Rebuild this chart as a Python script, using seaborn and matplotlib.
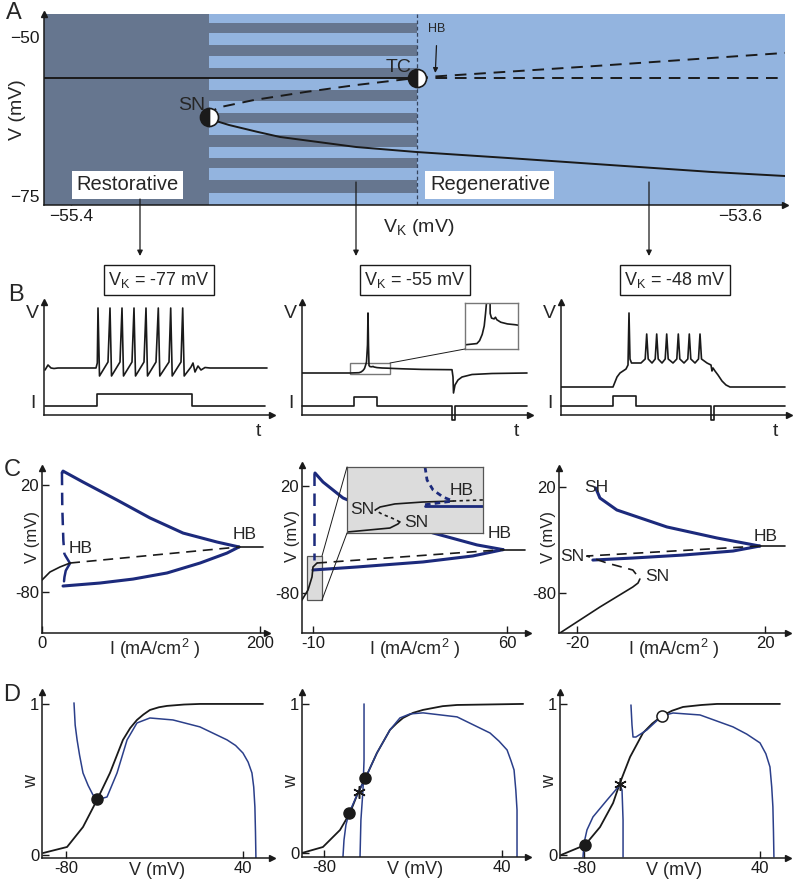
import numpy as np
import matplotlib
matplotlib.use("Agg")
import matplotlib.pyplot as plt
from matplotlib.patches import Rectangle, ConnectionPatch
import seaborn as sns

# =========================
# STYLE
# =========================
sns.set_theme(style="white")
plt.rcParams['font.family'] = ['Liberation Sans', 'DejaVu Sans']
plt.rcParams['axes.unicode_minus'] = False

W, H = 797, 885
DARK = "#66768f"
LIGHT = "#93b4df"
NAVY = "#1c2a7c"
BLUE = "#2b3f8a"

# =========================
# DATA  - panel A (bifurcation in V_K)
# =========================
vk_sn = -55.03
vk_tc = -54.47
v_sn = -62.58
v_tc = -56.45
stripe_top = [-47.80, -51.26, -54.87, -58.33, -61.95, -65.41, -69.03, -72.48]
stripe_bot = [-49.37, -52.99, -56.45, -60.06, -63.52, -67.30, -70.60, -74.53]
rest_vk = [-55.473, -54.472]
rest_v = [-56.45, -56.45]
rest_dash_vk = [-54.472, -53.479]
rest_dash_v = [-56.45, -56.45]
sn_tc_vk = [-55.031, -55.025, -55.005, -54.908, -54.770, -54.633, -54.472]
sn_tc_v = [-62.58, -61.9, -61.1, -59.91, -58.65, -57.55, -56.45]
low_vk = [-55.031, -55.005, -54.975, -54.90, -54.838, -54.633, -54.472, -54.224,
          -53.950, -53.675, -53.479]
low_v = [-62.58, -63.3, -63.84, -64.9, -65.72, -67.30, -68.08, -69.03,
         -70.13, -71.23, -71.86]
cyc_vk = [-54.472, -54.0, -53.479]
cyc_v = [-56.40, -54.6, -52.5]

# =========================
# DATA  - panel B (voltage traces, arbitrary units)
# =========================
vk_labels = ["-77", "-55", "-48"]

bl_t = [1, 4, 7, 10, 14, 52, 53.3, 54, 55.5, 64, 66, 67.5, 76, 78, 79.5, 88, 90, 91.5,
        100, 102, 103.5, 112, 114.3, 115.8, 125, 126.7, 128.2, 137, 138.7, 140.2,
        147, 149, 151, 154, 157, 161, 166, 223]
bl_v = [45, 50, 47, 46.5, 47, 47, 52, 107, 39, 53, 107, 39, 53, 107, 39, 53, 107, 39,
        53, 107, 39, 53, 107, 39, 53, 107, 39, 53, 107, 39,
        48, 52, 43, 49, 45, 47.5, 47, 47]
bl_it = [1, 53, 53, 148, 148, 221]
bl_i = [9, 9, 21, 21, 9, 9]

bm_t = [0, 48, 57, 59, 61, 62.5, 63.5, 64.5, 65.5, 66, 66.5, 67, 68, 70, 71, 72, 75, 80,
        86, 90, 100, 120, 150, 151, 151.5, 153, 156, 160, 170, 190, 225]
bm_v = [42, 42, 42.3, 43, 44.5, 46.5, 49.5, 53, 70, 102, 70, 49.5, 48.4, 48.2, 48.6,
        48.0, 47.4, 47.0, 46.8, 46.6, 46.2, 45.6, 45.3, 38, 22, 30, 35, 38, 40.5, 41.5, 42]
bm_it = [0, 52, 52, 75, 75, 150, 150, 152.5, 152.5, 225]
bm_i = [9, 9, 18, 18, 9, 9, -5, -5, 9, 9]

br_t = [0, 52, 54, 56, 59, 62, 65, 67, 68, 69, 70.5, 74, 80, 84.2, 85.7, 87.2, 91,
        94.2, 95.7, 97.2, 101, 104.2, 105.7, 107.2, 112, 115.8, 117.3, 118.8, 123,
        126.8, 128.3, 129.8, 134, 137.5, 139, 140.5, 146, 150, 151, 152, 154, 157,
        161, 165, 169, 224]
br_v = [28, 28, 33, 38, 42, 44, 46, 50, 102, 56, 52, 52, 52, 56, 81, 56, 52,
        56, 81, 56, 52, 56, 81, 56, 52, 56, 81, 56, 52,
        56, 81, 56, 52, 56, 81, 56, 52, 50, 44, 47, 44, 40,
        34, 30, 28, 28]
br_it = [0, 52, 52, 75, 75, 150.5, 150.5, 153, 153, 224]
br_i = [9, 9, 19, 19, 9, 9, -5, -5, 9, 9]

# =========================
# DATA  - panel C (bifurcation in I)
# =========================
c1_up_i = [18.5, 19.3, 37.6, 68.8, 99.1, 129.4, 160.6, 180.7]
c1_up_v = [31.5, 33.0, 22.8, 6.0, -10.8, -24.9, -33.3, -37.9]
c1_lo_i = [19.3, 53.2, 83.5, 114.7, 145.0, 169.7, 180.7]
c1_lo_v = [-74.4, -71.6, -67.9, -62.2, -52.9, -43.6, -37.9]
c1_bd_i = [18.3, 18.6, 19.6, 20.6]
c1_bd_v = [31.5, -1.0, -32.0, -45.0]
c1_bs_i = [21.1, 25.7, 21.8, 20.6, 20.2]
c1_bs_v = [-45.4, -53.2, -60.0, -66.0, -70.0]
c1_st_i = [0, 7.3, 16.5, 25.7]
c1_st_v = [-68.8, -61.3, -56.6, -52.9]
c1_un_i = [25.7, 180.7]
c1_un_v = [-52.9, -37.9]
c1_r_i = [180.7, 202.8]
c1_r_v = [-37.9, -37.9]

c2_up_i = [-9.28, -6.39, 0.83, 17.79, 25.0, 33.3, 49.2, 58.6]
c2_up_v = [32.1, 23.7, 8.8, -9.9, -16.4, -23.9, -35.1, -39.5]
c2_lo_i = [-10.0, 5.88, 29.7, 47.7, 58.6]
c2_lo_v = [-58.5, -55.7, -51.0, -45.4, -39.5]
c2_bd_i = [-9.64, -9.64]
c2_bd_v = [32.1, -49.2]
c2_st_i = [-13.97, -11.8, -10.36, -10.0, -8.56]
c2_st_v = [-86.5, -77.2, -65.0, -55.7, -52.0]
c2_un_i = [-8.56, 58.6]
c2_un_v = [-52.0, -39.5]
c2_r_i = [58.6, 66.5]
c2_r_v = [-39.5, -39.5]
c2_box_i = [-12.17, -6.75]
c2_box_v = [-86.5, -45.4]
# magnified view (inset)
in_lo_i = [-12.17, -10.46, -10.14, -10.06]
in_lo_v = [-85.9, -83.4, -80.9, -79.6]
in_mid_i = [-10.06, -10.38, -10.78, -11.05]
in_mid_v = [-79.6, -77.2, -74.7, -72.2]
in_up_i = [-11.05, -10.85, -10.26, -9.14, -7.95]
in_up_v = [-72.2, -70.3, -68.4, -67.2, -66.6]
in_r_i = [-7.95, -6.75]
in_r_v = [-66.6, -65.9]
in_bd_i = [-9.06, -8.98, -8.74, -8.34, -7.95]
in_bd_v = [-45.4, -53.5, -59.7, -64.1, -66.6]
in_bs_i = [-9.06, -6.75]
in_bs_v = [-69.7, -69.7]
in_bdd_i = [-9.06, -7.95]
in_bdd_v = [-68.9, -66.6]

c3_up_i = [-16.0, -15.1, -11.5, -0.85, 9.8, 18.9]
c3_up_v = [19.1, 9.6, -1.7, -17.7, -28.1, -35.7]
c3_lo_i = [-16.6, -8.1, 2.55, 13.2, 18.9]
c3_lo_v = [-48.9, -47.0, -44.2, -40.4, -35.7]
c3_un_i = [18.9, -17.9, -13.6, -8.1, -6.6]
c3_un_v = [-35.7, -45.1, -51.7, -58.3, -66.8]
c3_st_i = [-6.6, -7.0, -8.1, -15.1, -23.6]
c3_st_v = [-66.8, -70.6, -74.3, -93.2, -117.7]
c3_r_i = [18.9, 24.3]
c3_r_v = [-35.7, -35.7]

# =========================
# DATA  - panel D (phase planes)
# =========================
d1_k_v = [-95.6, -79.3, -68.5, -59.0, -50.2, -41.4, -36.5, -31.9, -27.5, -23.1, -17.0,
          -11.5, 0.0, 10.8, 53.6]
d1_k_w = [0.013, 0.053, 0.185, 0.364, 0.543, 0.762, 0.84, 0.894, 0.93, 0.960, 0.978,
          0.987, 0.996, 1.0, 1.0]
d1_b_v = [-74.6, -73.8, -72.5, -70.8, -68.5, -65.0, -61.7, -56.9, -52.2, -45.4, -38.6,
          -31.9, -23.1, -7.5, 10.8, 29.2, 35.0, 40.0, 43.5, 46.1, 47.3, 48.1, 48.5, 48.8]
d1_b_w = [1.007, 0.86, 0.762, 0.66, 0.543, 0.46, 0.397, 0.371, 0.384, 0.543, 0.762,
          0.874, 0.907, 0.894, 0.848, 0.762, 0.725, 0.675, 0.615, 0.543, 0.45, 0.318,
          0.15, -0.02]
d1_stable = ([-59.3], [0.37])

d2_k_v = [-94.8, -80.7, -69.2, -62.5, -57.1, -51.7, -44.3, -35.5, -31.0, -26.7, -20.0,
          -13.2, 0.0, 9.7, 54.2]
d2_k_w = [0.0, 0.04, 0.154, 0.268, 0.403, 0.51, 0.671, 0.826, 0.87, 0.906, 0.94,
          0.96, 0.985, 0.993, 1.0]
d2_b1_v = [-67.2, -66.5, -65.2, -63.1, -57.1, -51.7, -44.3, -35.5, -28.8, -22.0, -13.2,
           9.7, 31.9, 38.0, 43.4, 46.0, 48.1, 49.3, 50.1, 50.1, 50.1]
d2_b1_w = [-0.027, 0.087, 0.188, 0.268, 0.403, 0.51, 0.671, 0.826, 0.906, 0.933, 0.94,
           0.913, 0.805, 0.75, 0.691, 0.62, 0.557, 0.42, 0.289, 0.15, -0.027]
d2_b2_v = [-53.0, -53.0, -53.7, -55.1, -55.7]
d2_b2_w = [1.0, 0.624, 0.423, 0.221, -0.027]
d2_stable = ([-63.1, -52.3], [0.268, 0.50])
d2_saddle = ([-56.4], [0.41])

d3_k_v = [-95.7, -87.5, -79.3, -69.1, -60.2, -55.5, -48.6, -39.8, -33.5, -26.8, -20.0,
          -12.5, 0.0, 10.7, 53.6]
d3_k_w = [0.0, 0.033, 0.066, 0.185, 0.344, 0.477, 0.649, 0.808, 0.87, 0.921, 0.955,
          0.98, 0.993, 1.0, 1.0]
d3_b1_v = [-80.7, -80.0, -78.0, -73.9, -64.3, -55.5, -54.1, -53.4, -53.4]
d3_b1_w = [-0.013, 0.079, 0.166, 0.252, 0.364, 0.464, 0.43, 0.232, -0.013]
d3_b2_v = [-48.0, -47.3, -46.6, -44.6, -37.1, -26.8, -19.3, -0.9, 21.6, 31.0, 40.0, 44.0,
           46.8, 48.0, 48.8, 49.2, 49.5]
d3_b2_w = [0.993, 0.861, 0.781, 0.781, 0.828, 0.921, 0.94, 0.927, 0.848, 0.80, 0.742,
           0.67, 0.583, 0.45, 0.318, 0.15, -0.013]
d3_stable = ([-79.3], [0.066])
d3_saddle = ([-55.5], [0.47])
d3_unstable = ([-26.8], [0.921])


# =========================
# HELPERS
# =========================
fig = plt.figure(figsize=(W / 100, H / 100), dpi=100)


def px_axes(x0, y0, x1, y1):
    return fig.add_axes([x0 / W, 1 - y1 / H, (x1 - x0) / W, (y1 - y0) / H])


def line(ax, x, y, **kw):
    sns.lineplot(x=x, y=y, ax=ax, sort=False, estimator=None, legend=False, **kw)


def arrow_axes(ax, ticks=True):
    for s in ["top", "right"]:
        ax.spines[s].set_visible(False)
    for s in ["left", "bottom"]:
        ax.spines[s].set_color("k")
        ax.spines[s].set_linewidth(1.1)
    ax.plot(1, 0, ">k", ms=5, transform=ax.transAxes, clip_on=False)
    ax.plot(0, 1, "^k", ms=5, transform=ax.transAxes, clip_on=False)
    ax.tick_params(direction="in", length=5, width=1, labelsize=12, pad=2,
                   left=ticks, bottom=ticks, colors="k")
    ax.set_facecolor("none")
    ax.set_xlabel("")
    ax.set_ylabel("")


def side_labels(ax, xlab, ylab, ylab_y, xsize=13, ysize=12):
    # axis titles sit on the tick-label row / between the y tick labels
    bb = ax.get_position()
    h_px = bb.height * H
    w_px = bb.width * W
    ax.text(0.5, -4 / h_px, xlab, transform=ax.transAxes, ha="center", va="top",
            fontsize=xsize)
    ax.text(-10 / w_px, ylab_y, ylab, transform=ax.transAxes, ha="center", va="center",
            rotation=90, fontsize=ysize)


# =========================
# PANEL A
# =========================
axA = px_axes(44, 14, 785, 205)
axA.axvspan(-55.473, vk_sn, color=DARK, lw=0)
axA.axvspan(vk_sn, -53.479, color=LIGHT, lw=0)
for top, bot in zip(stripe_top, stripe_bot):
    axA.fill_between([vk_sn, vk_tc], bot, top, color=DARK, lw=0)
axA.axvline(vk_tc, color="#34445e", lw=0.9, ls=(0, (3, 2)))

line(axA, rest_vk, rest_v, color="k", lw=1.4)
line(axA, rest_dash_vk, rest_dash_v, color="k", lw=1.4, linestyle=(0, (6, 4)))
line(axA, sn_tc_vk, sn_tc_v, color="k", lw=1.4, linestyle=(0, (6, 4)))
line(axA, low_vk, low_v, color="k", lw=1.4)
line(axA, cyc_vk, cyc_v, color="k", lw=1.4, linestyle=(0, (6, 4)))
for vk, v in [(vk_sn, v_sn), (vk_tc, v_tc)]:
    axA.plot(vk, v, marker="o", ms=13, fillstyle="left", mfc="k", markerfacecoloralt="w",
             mec="k", mew=1.2, zorder=5)

axA.set_xlim(-55.473, -53.479)
axA.set_ylim(-76.42, -46.38)
arrow_axes(axA)
axA.set_xticks([-55.4, -53.6])
axA.set_xticklabels(["\u221255.4", "\u221253.6"])
axA.set_yticks([-50, -75])
axA.set_yticklabels(["\u221250", "\u221275"])
axA.tick_params(labelsize=12.5, pad=3)
axA.text(-26 / 741, 0.50, "V (mV)", transform=axA.transAxes, rotation=90, ha="center",
         va="center", fontsize=14)
axA.text(0.506, -23 / 191, r"V$_\mathregular{K}$ (mV)", transform=axA.transAxes,
         ha="center", va="center", fontsize=14)
axA.text(vk_sn - 0.01, v_sn + 1.8, "SN", fontsize=14, ha="right", va="center")
axA.text(vk_tc - 0.015, v_tc + 1.7, "TC", fontsize=14, ha="right", va="center")
axA.annotate("HB", xy=(vk_tc + 0.05, v_tc + 0.8), xytext=(vk_tc + 0.055, -48.8),
             fontsize=9, ha="center", va="center",
             arrowprops=dict(arrowstyle="-|>", color="k", lw=0.9, mutation_scale=7,
                             shrinkA=5, shrinkB=0))
axA.text(-55.249, -73.27, "Restorative", fontsize=14.5, ha="center", va="center",
         bbox=dict(boxstyle="square,pad=0.22", fc="w", ec="none"))
axA.text(-54.273, -73.27, "Regenerative", fontsize=14.5, ha="center", va="center",
         bbox=dict(boxstyle="square,pad=0.22", fc="w", ec="none"))

# =========================
# PANEL B
# =========================
b_x0 = [44, 302, 561]
traces = [(bl_t, bl_v, bl_it, bl_i), (bm_t, bm_v, bm_it, bm_i), (br_t, br_v, br_it, br_i)]
axB = []
for x0, (tt, vv, it, ii) in zip(b_x0, traces):
    ax = px_axes(x0, 302, x0 + 228, 415)
    line(ax, tt, vv, color="k", lw=1.2)
    line(ax, it, ii, color="k", lw=1.2)
    ax.lines[-1].set_clip_on(False)
    ax.set_xlim(0, 228)
    ax.set_ylim(0, 113)
    arrow_axes(ax, ticks=False)
    ax.set_xticks([])
    ax.set_yticks([])
    axB.append(ax)

# magnified spike onset
axBi = px_axes(465, 303, 518, 349)
line(axBi, bm_t, bm_v, color="k", lw=1.2)
axBi.set_xlim(48, 88)
axBi.set_ylim(41, 52)
axBi.set_xticks([])
axBi.set_yticks([])
axBi.set_xlabel("")
axBi.set_ylabel("")
for s in axBi.spines.values():
    s.set_color("#777777")
    s.set_linewidth(1.0)
axB[1].add_patch(Rectangle((48, 41), 40, 11, fill=False, ec="#777777", lw=1.0))
fig.add_artist(ConnectionPatch(xyA=(88, 52), coordsA=axB[1].transData, xyB=(0, 0),
                               coordsB=axBi.transAxes, color="k", lw=0.7))

# =========================
# PANEL C
# =========================
axC1 = px_axes(42, 468, 267, 633)
line(axC1, c1_up_i, c1_up_v, color=NAVY, lw=2.2)
line(axC1, c1_lo_i, c1_lo_v, color=NAVY, lw=2.2)
line(axC1, c1_bd_i, c1_bd_v, color=NAVY, lw=1.8, linestyle=(0, (5, 3)))
line(axC1, c1_bs_i, c1_bs_v, color=NAVY, lw=1.8)
line(axC1, c1_st_i, c1_st_v, color="k", lw=1.2)
line(axC1, c1_un_i, c1_un_v, color="k", lw=1.2, linestyle=(0, (6, 4)))
line(axC1, c1_r_i, c1_r_v, color="k", lw=1.2)
axC1.set_xlim(0, 206.4)
axC1.set_ylim(-118.3, 35.9)
axC1.set_xticks([0, 200])
axC1.set_xticklabels(["0", "200"])
axC1.text(24, -44, "HB", fontsize=12.5)
axC1.text(175, -30, "HB", fontsize=12.5)

axC2 = px_axes(302, 465, 528, 633)
line(axC2, c2_up_i, c2_up_v, color=NAVY, lw=2.2)
line(axC2, c2_lo_i, c2_lo_v, color=NAVY, lw=2.2)
line(axC2, c2_bd_i, c2_bd_v, color=NAVY, lw=1.8, linestyle=(0, (5, 3)))
line(axC2, c2_un_i, c2_un_v, color="k", lw=1.2, linestyle=(0, (6, 4)))
line(axC2, c2_r_i, c2_r_v, color="k", lw=1.2)
axC2.add_patch(Rectangle((c2_box_i[0], c2_box_v[0]), c2_box_i[1] - c2_box_i[0],
                         c2_box_v[1] - c2_box_v[0], fc="#dcdcdc", ec="#555555", lw=0.9,
                         zorder=1.5))
line(axC2, c2_st_i, c2_st_v, color="k", lw=1.2)
axC2.set_xlim(-13.97, 67.6)
axC2.set_ylim(-117.4, 39.6)
axC2.set_xticks([-10, 60])
axC2.set_xticklabels(["-10", "60"])
axC2.text(53, -29, "HB", fontsize=12.5)

axCi = px_axes(347, 467, 483, 533)
axCi.set_facecolor("#dcdcdc")
line(axCi, in_lo_i, in_lo_v, color="k", lw=1.2)
line(axCi, in_mid_i, in_mid_v, color="k", lw=1.2, linestyle=(0, (2, 2)))
line(axCi, in_up_i, in_up_v, color="k", lw=1.2)
line(axCi, in_r_i, in_r_v, color="k", lw=1.2, linestyle=(0, (2, 2)))
line(axCi, in_bs_i, in_bs_v, color=NAVY, lw=2.0)
line(axCi, in_bd_i, in_bd_v, color=NAVY, lw=2.0, linestyle=(0, (2, 1.5)))
line(axCi, in_bdd_i, in_bdd_v, color=NAVY, lw=2.0, linestyle=(0, (2, 1.5)))
axCi.set_xlim(c2_box_i)
axCi.set_ylim(c2_box_v)
axCi.set_xticks([])
axCi.set_yticks([])
axCi.set_xlabel("")
axCi.set_ylabel("")
for s in axCi.spines.values():
    s.set_color("#555555")
    s.set_linewidth(0.9)
axCi.text(-11.1, -72.0, "SN", fontsize=12.5, ha="right", va="center")
axCi.text(-9.9, -80.2, "SN", fontsize=12.5, ha="left", va="center")
axCi.text(-8.1, -60.0, "HB", fontsize=12.5, ha="left", va="center")
for yb, yi in [(c2_box_v[1], 1), (c2_box_v[0], 0)]:
    fig.add_artist(ConnectionPatch(xyA=(c2_box_i[1], yb), coordsA=axC2.transData,
                                   xyB=(0, yi), coordsB=axCi.transAxes, color="k",
                                   lw=0.7))

axC3 = px_axes(559, 468, 788, 633)
line(axC3, c3_up_i, c3_up_v, color=NAVY, lw=2.2)
line(axC3, c3_lo_i, c3_lo_v, color=NAVY, lw=2.2)
line(axC3, c3_un_i, c3_un_v, color="k", lw=1.2, linestyle=(0, (6, 4)))
line(axC3, c3_st_i, c3_st_v, color="k", lw=1.2)
line(axC3, c3_r_i, c3_r_v, color="k", lw=1.2)
axC3.set_xlim(-23.8, 24.9)
axC3.set_ylim(-117.7, 37.9)
axC3.set_xticks([-20, 20])
axC3.set_xticklabels(["-20", "20"])
axC3.text(-18.5, 19.5, "SH", fontsize=12.5, va="center")
axC3.text(-18.4, -45.5, "SN", fontsize=12.5, ha="right", va="center")
axC3.text(-5.5, -64, "SN", fontsize=12.5, va="center")
axC3.text(17.5, -27, "HB", fontsize=12.5, va="center")

for ax in [axC1, axC2, axC3]:
    arrow_axes(ax)
    ax.set_yticks([20, -80])
    ax.set_yticklabels(["20", "-80"])
    side_labels(ax, r"I (mA/cm$^\mathregular{2}$ )", "V (mV)", 0.58)

# =========================
# PANEL D
# =========================
axD1 = px_axes(42, 692, 272, 858)
line(axD1, d1_k_v, d1_k_w, color="k", lw=1.3)
line(axD1, d1_b_v, d1_b_w, color=BLUE, lw=1.1)
axD1.plot(*d1_stable, "o", color="k", ms=8, zorder=5)
axD1.set_xlim(-96.3, 59.7)
axD1.set_ylim(-0.02, 1.079)

axD2 = px_axes(302, 692, 528, 857)
line(axD2, d2_k_v, d2_k_w, color="k", lw=1.3)
line(axD2, d2_b1_v, d2_b1_w, color=BLUE, lw=1.1)
line(axD2, d2_b2_v, d2_b2_w, color=BLUE, lw=1.1)
axD2.plot(*d2_stable, "o", color="k", ms=8, zorder=5)
axD2.plot(*d2_saddle, marker=(6, 2, 0), color="k", ms=9, mew=1.1, zorder=5)
axD2.set_xlim(-94.8, 57.5)
axD2.set_ylim(-0.027, 1.08)

axD3 = px_axes(560, 692, 788, 858)
line(axD3, d3_k_v, d3_k_w, color="k", lw=1.3)
line(axD3, d3_b1_v, d3_b1_w, color=BLUE, lw=1.1)
line(axD3, d3_b2_v, d3_b2_w, color=BLUE, lw=1.1)
axD3.plot(*d3_stable, "o", color="k", ms=8, zorder=5)
axD3.plot(*d3_saddle, marker=(6, 2, 0), color="k", ms=9, mew=1.1, zorder=5)
axD3.plot(*d3_unstable, "o", mfc="w", mec="k", ms=8, mew=1.1, zorder=5)
axD3.set_xlim(-96.4, 59.1)
axD3.set_ylim(-0.02, 1.079)

for ax in [axD1, axD2, axD3]:
    arrow_axes(ax)
    ax.set_xticks([-80, 40])
    ax.set_xticklabels(["-80", "40"])
    ax.set_yticks([0, 1])
    ax.set_yticklabels(["0", "1"])
    side_labels(ax, "V (mV)", "w", 0.46, xsize=13, ysize=13)

# =========================
# OVERLAY (letters, arrows, V_K boxes)
# =========================
ov = fig.add_axes([0, 0, 1, 1])
ov.set_xlim(0, W)
ov.set_ylim(H, 0)
ov.axis("off")
ov.patch.set_alpha(0)

for ch, (x, y) in zip("ABCD", [(14, 13), (16, 295), (12, 470), (12, 695)]):
    ov.text(x, y, ch, fontsize=17, ha="center", va="center")

for xa, ya in zip([140, 356, 649], [199, 182, 182]):
    ov.annotate("", xy=(xa, 256), xytext=(xa, ya),
                arrowprops=dict(arrowstyle="-|>", color="k", lw=0.9, mutation_scale=8,
                                shrinkA=0, shrinkB=0))

for xc, lab in zip([159, 415, 675], vk_labels):
    ov.text(xc, 280, r"V$_\mathregular{K}$ = " + lab + " mV", fontsize=13, ha="center",
            va="center", bbox=dict(boxstyle="square,pad=0.25", fc="w", ec="k", lw=1))

for x0 in b_x0:
    ov.text(x0 - 12, 314, "V", fontsize=14, ha="center", va="center")
    ov.text(x0 - 11, 404, "I", fontsize=14, ha="center", va="center")
    ov.text(x0 + 214, 432, "t", fontsize=14, ha="center", va="center")

fig.savefig("out.png", dpi=100)
